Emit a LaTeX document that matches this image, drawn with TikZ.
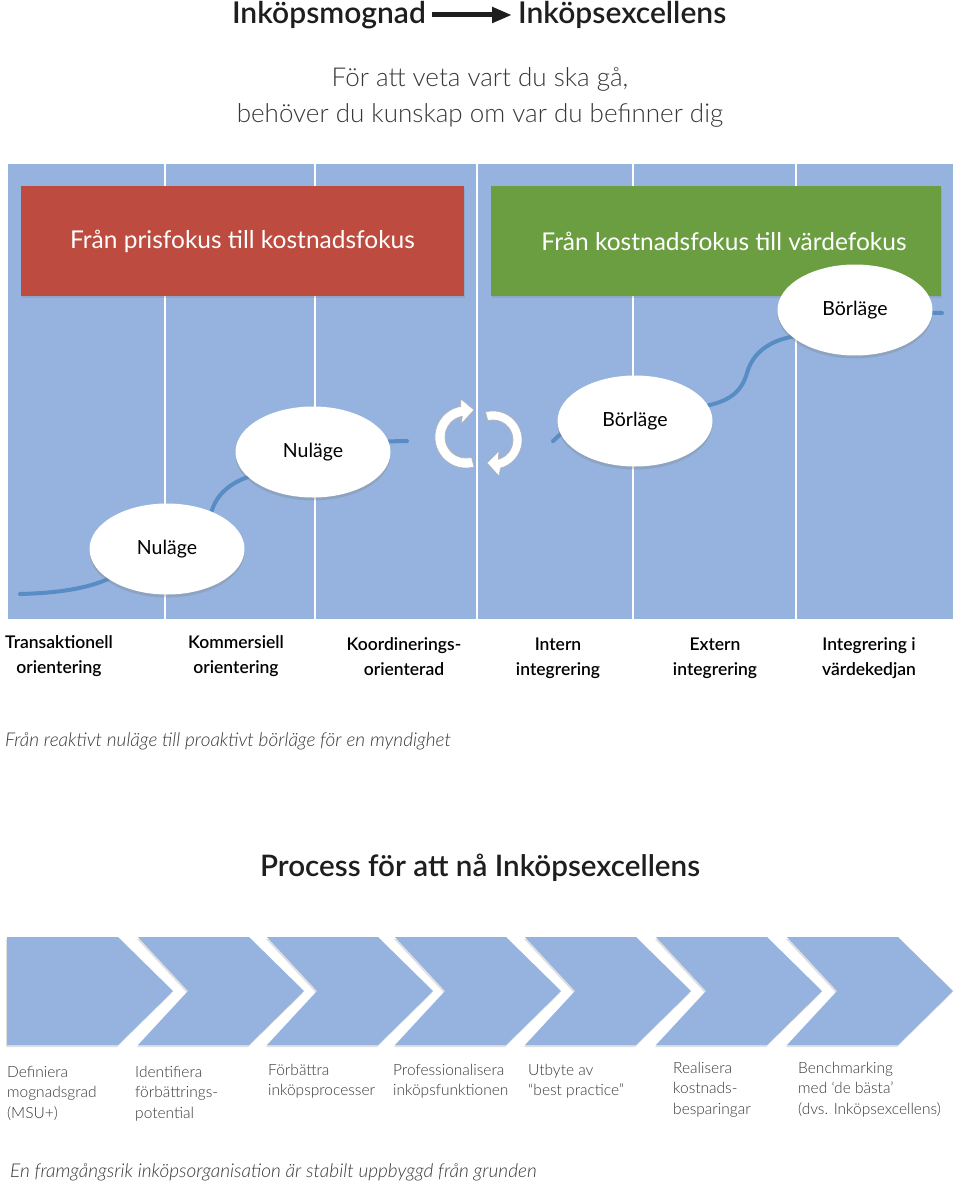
\documentclass[tikz,border=0pt]{standalone}
\usepackage{fontspec}
\setmainfont{Lato}
\IfFontExistsTF{Lato Light}{\newfontfamily\lightf{Lato Light}}{\newfontfamily\lightf{Lato}}
\IfFontExistsTF{Lato Semibold}{\newfontfamily\semif{Lato Semibold}}{\newfontfamily\semif{Lato}}
\usetikzlibrary{shapes.geometric,shadows,arrows.meta}
\pgfdeclarelayer{bg}
\pgfsetlayers{bg,main}
\definecolor{panelblue}{RGB}{149,179,222}
\definecolor{boxred}{RGB}{190,75,63}
\definecolor{boxgreen}{RGB}{107,158,64}
\definecolor{curveblue}{RGB}{88,140,196}
\definecolor{txt}{RGB}{30,30,30}
\definecolor{lighttxt}{RGB}{55,55,55}
\newcommand{\stackl}[1]{\vtop{\baselineskip=20.5pt\halign{##\hfil\cr#1\crcr}}}
\newcommand{\stackc}[1]{\vtop{\baselineskip=25pt\halign{\hfil##\hfil\cr#1\crcr}}}
\begin{document}
\begin{tikzpicture}[x=1pt,y=-1pt,
  titletext/.style={inner sep=0pt, text=txt, font=\semif\fontsize{30}{36}\selectfont},
  titlearrow/.style={line width=5pt, -{Triangle[length=20pt,width=15pt]}, shorten <=6pt, shorten >=6pt, draw=txt},
  subtext/.style={inner sep=0pt, text=lighttxt, font=\lightf\fontsize{26}{30}\selectfont},
  headbox/.style={rectangle, inner sep=0pt, text=white, font=\fontsize{24.5}{28}\selectfont,
    drop shadow={shadow xshift=1pt, shadow yshift=-2pt, opacity=0.25}},
  divider/.style={draw=white, line width=2pt},
  curve/.style={draw=curveblue, line width=4pt, line cap=round},
  ell/.style={ellipse, fill=white, minimum width=155pt, minimum height=91pt, inner sep=0pt,
    text=black, font=\fontsize{19.5}{23}\selectfont,
    drop shadow={shadow xshift=0pt, shadow yshift=-3pt, opacity=0.3}},
  cyc/.style={fill=white, draw=black!30, line width=0.6pt},
  collabel/.style={inner sep=0pt, anchor=base, text=black, font=\semif\fontsize{17.5}{25}\selectfont},
  caption/.style={inner sep=0pt, anchor=base west, text=lighttxt, font=\lightf\itshape\fontsize{19}{22}\selectfont},
  proctitle/.style={inner sep=0pt, text=txt, font=\semif\fontsize{29.6}{34}\selectfont},
  chev/.style={fill=panelblue, drop shadow={shadow xshift=-1pt, shadow yshift=-2pt, opacity=0.25}},
  chevlabel/.style={inner sep=0pt, anchor=base west, text=lighttxt, font=\lightf\fontsize{15.5}{20.5}\selectfont}
]
\useasboundingbox (0,0) rectangle (960,1185);

% ---------- title ----------
\node[titletext, anchor=east] (t1) at (426,15) {Inköpsmognad};
\node[titletext, anchor=west] (t2) at (518,15) {Inköpsexcellens};
\draw[titlearrow] (t1) -- (t2);

\node[subtext] (s1) at (480,79) {För att veta vart du ska gå,};
\node[subtext] (s2) at (480,115) {behöver du kunskap om var du befinner dig};

% ---------- ellipses (main layer) ----------
\node[ell] (n1) at (167,549) {Nuläge};
\node[ell] (n2) at (313,452) {Nuläge};
\node[ell] (b1) at (635,421) {Börläge};
\node[ell] (b2) at (855,310) {Börläge};

\begin{pgfonlayer}{bg}
  \fill[panelblue] (8,164) rectangle (953,619);
  \foreach \x in {165,315,477,633,796}
    \draw[divider] (\x,164) -- (\x,619);
  \node[headbox, fill=boxred, minimum width=443pt, minimum height=110pt] (red) at (242.5,241) {Från prisfokus till kostnadsfokus};
  \node[headbox, fill=boxgreen, minimum width=450pt, minimum height=110pt] (green) at (716,241) {\hspace*{16pt}Från kostnadsfokus till värdefokus};
  % curve
  \coordinate (c0) at (20,594);
  \coordinate (c1) at (407,441);
  \coordinate (c2) at (553,441);
  \coordinate (c3) at (942,313);
  \draw[curve] (c0) .. controls (60,593) and (88,588) .. (n1.207);
  \draw[curve] (n1.40) .. controls (216,496) and (228,484) .. (n2.201);
  \draw[curve] (n2.8) -- (c1);
  \draw[curve] (c2) -- (b1.190);
  \draw[curve] (b1.12) .. controls (732,400) and (742,390) .. (747,373)
                       .. controls (753,352) and (770,341) .. (b2.203);
  \draw[curve] (b2.358) -- (c3);
\end{pgfonlayer}

% ---------- cycle arrows ----------
\fill[cyc] plot[domain=75:260,samples=50] ({466+31*cos(\x)},{437+31*sin(\x)})
   -- (461,399) -- (474,410) -- (461,424)
   -- plot[domain=260:75,samples=50] ({466+21*cos(\x)},{437+21*sin(\x)}) -- cycle;
\fill[cyc] plot[domain=255:435,samples=50] ({493+29*cos(\x)},{440+29*sin(\x)})
   -- (499,476) -- (487,463) -- (499,451)
   -- plot[domain=435:255,samples=50] ({493+20*cos(\x)},{440+20*sin(\x)}) -- cycle;

% ---------- column labels ----------
\node[collabel] (l1) at (59,648) {\stackc{Transaktionell\cr orientering}};
\node[collabel] (l2) at (236,648) {\stackc{Kommersiell\cr orientering}};
\node[collabel] (l3) at (404,650) {\stackc{Koordinerings-\cr orienterad}};
\node[collabel] (l4) at (558,650) {\stackc{Intern\cr integrering}};
\node[collabel] (l5) at (715,650) {\stackc{Extern\cr integrering}};
\node[collabel] (l6) at (869,650) {\stackc{Integrering i\cr värdekedjan}};

\node[caption] (cap1) at (5,746) {Från reaktivt nuläge till proaktivt börläge för en myndighet};

% ---------- process ----------
\node[proctitle] (pt) at (480,868) {Process för att nå Inköpsexcellens};

\fill[chev] (7,937) -- (118,937) -- (173,991) -- (118,1045) -- (7,1045) -- cycle;
\foreach \x in {138,267,395,525,656,787}
  \fill[chev] (\x,937) -- (\x+111,937) -- (\x+166,991) -- (\x+111,1045) -- (\x,1045) -- (\x+50,991) -- cycle;

\node[chevlabel] (p1) at (7,1077) {\stackl{Definiera\cr mognadsgrad\cr (MSU+)}};
\node[chevlabel] (p2) at (135,1077) {\stackl{Identifiera\cr förbättrings-\cr potential}};
\node[chevlabel] (p3) at (268,1075) {\stackl{Förbättra\cr inköpsprocesser}};
\node[chevlabel] (p4) at (393,1075) {\stackl{Professionalisera\cr inköpsfunktionen}};
\node[chevlabel] (p5) at (528,1075) {\stackl{Utbyte av\cr “best practice”}};
\node[chevlabel] (p6) at (673,1073) {\stackl{Realisera\cr kostnads-\cr besparingar}};
\node[chevlabel] (p7) at (798,1073) {\stackl{Benchmarking\cr med ‘de bästa’\cr (dvs. Inköpsexcellens)}};

\node[caption] (cap2) at (10,1177) {En framgångsrik inköpsorganisation är stabilt uppbyggd från grunden};
\end{tikzpicture}
\end{document}
